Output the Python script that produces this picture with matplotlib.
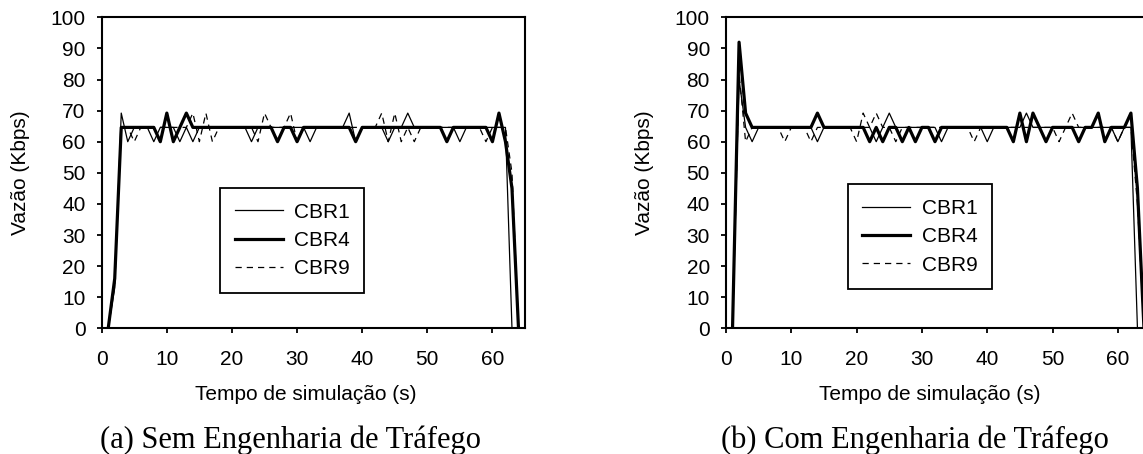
import numpy as np
import matplotlib.pyplot as plt

plt.rcParams['font.family'] = ['Liberation Sans', 'DejaVu Sans']

# tempo (s)
tempo_63 = np.arange(1, 64)
tempo_64 = np.arange(1, 65)

# (a) sem engenharia de trafego
a_cbr1 = [0, 13, 69.2, 60, 64.6, 64.6, 64.6, 60, 64.6, 64.6,
          64.6, 60, 64.6, 60, 64.6, 64.6, 64.6, 64.6, 64.6, 64.6,
          64.6, 64.6, 60, 64.6, 64.6, 64.6, 64.6, 64.6, 64.6, 64.6,
          64.6, 60, 64.6, 64.6, 64.6, 64.6, 64.6, 69.2, 60, 64.6,
          64.6, 64.6, 64.6, 60, 64.6, 64.6, 69.2, 64.6, 64.6, 64.6,
          64.6, 64.6, 64.6, 64.6, 60, 64.6, 64.6, 64.6, 64.6, 64.6,
          64.6, 64.6, 0]
a_cbr4 = [0, 16, 64.6, 64.6, 64.6, 64.6, 64.6, 64.6, 60, 69.2,
          60, 64.6, 69.2, 64.6, 64.6, 64.6, 64.6, 64.6, 64.6, 64.6,
          64.6, 64.6, 64.6, 64.6, 64.6, 64.6, 60, 64.6, 64.6, 60,
          64.6, 64.6, 64.6, 64.6, 64.6, 64.6, 64.6, 64.6, 60, 64.6,
          64.6, 64.6, 64.6, 64.6, 64.6, 64.6, 64.6, 64.6, 64.6, 64.6,
          64.6, 64.6, 60, 64.6, 64.6, 64.6, 64.6, 64.6, 64.6, 60,
          69.2, 60, 45, 0]
a_cbr9 = [0, 14, 64.6, 64.6, 60, 64.6, 64.6, 64.6, 64.6, 64.6,
          64.6, 64.6, 64.6, 69.2, 60, 69.2, 60, 64.6, 64.6, 64.6,
          64.6, 64.6, 64.6, 60, 69.2, 64.6, 64.6, 64.6, 69.2, 60,
          64.6, 64.6, 64.6, 64.6, 64.6, 64.6, 64.6, 64.6, 64.6, 64.6,
          64.6, 64.6, 69.2, 60, 69.2, 60, 64.6, 60, 64.6, 64.6,
          64.6, 64.6, 64.6, 64.6, 64.6, 64.6, 64.6, 64.6, 60, 64.6,
          64.6, 64.6, 50, 0]

# (b) com engenharia de trafego
b_cbr1 = [0, 80, 64.6, 60, 64.6, 64.6, 64.6, 64.6, 64.6, 64.6,
          64.6, 64.6, 64.6, 60, 64.6, 64.6, 64.6, 64.6, 64.6, 64.6,
          64.6, 64.6, 60, 64.6, 69.2, 64.6, 64.6, 64.6, 64.6, 64.6,
          64.6, 64.6, 60, 64.6, 64.6, 64.6, 64.6, 64.6, 64.6, 60,
          64.6, 64.6, 64.6, 64.6, 64.6, 69.2, 64.6, 64.6, 64.6, 64.6,
          64.6, 64.6, 64.6, 64.6, 64.6, 64.6, 64.6, 64.6, 64.6, 60,
          64.6, 64.6, 0]
b_cbr4 = [0, 92, 69.2, 64.6, 64.6, 64.6, 64.6, 64.6, 64.6, 64.6,
          64.6, 64.6, 64.6, 69.2, 64.6, 64.6, 64.6, 64.6, 64.6, 64.6,
          64.6, 60, 64.6, 60, 64.6, 64.6, 60, 64.6, 60, 64.6,
          64.6, 60, 64.6, 64.6, 64.6, 64.6, 64.6, 64.6, 64.6, 64.6,
          64.6, 64.6, 64.6, 60, 69.2, 60, 69.2, 64.6, 60, 64.6,
          64.6, 64.6, 64.6, 60, 64.6, 64.6, 69.2, 60, 64.6, 64.6,
          64.6, 69.2, 45, 0]
b_cbr9 = [0, 82, 60, 64.6, 64.6, 64.6, 64.6, 64.6, 60, 64.6,
          64.6, 64.6, 60, 64.6, 64.6, 64.6, 64.6, 64.6, 64.6, 60,
          69.2, 64.6, 69.2, 64.6, 64.6, 60, 64.6, 64.6, 64.6, 64.6,
          64.6, 64.6, 64.6, 64.6, 64.6, 64.6, 64.6, 60, 64.6, 64.6,
          64.6, 64.6, 64.6, 64.6, 64.6, 64.6, 64.6, 64.6, 64.6, 64.6,
          60, 64.6, 69.2, 64.6, 64.6, 64.6, 64.6, 64.6, 64.6, 60,
          64.6, 64.6, 40, 0]

legendas = ["CBR1", "CBR4", "CBR9"]
eixo_x = [0, 10, 20, 30, 40, 50, 60]
eixo_y = [0, 10, 20, 30, 40, 50, 60, 70, 80, 90, 100]

W, H = 1143, 454
fig = plt.figure(figsize=(W / 100, H / 100), dpi=100)

def px(x0, y0, x1, y1):
    return [x0 / W, 1 - y1 / H, (x1 - x0) / W, (y1 - y0) / H]

ax_a = fig.add_axes(px(101.7, 17.3, 525, 328.3))
ax_b = fig.add_axes(px(726, 17.3, 1150.5, 328.3))

paineis = [
    (ax_a, a_cbr1, a_cbr4, a_cbr9, (220, 293), 101.7, "(a) Sem Engenharia de Tráfego"),
    (ax_b, b_cbr1, b_cbr4, b_cbr9, (847.7, 289.3), 726, "(b) Com Engenharia de Tráfego"),
]

for ax, c1, c4, c9, leg_pos, x0, legenda in paineis:
    ax.plot(tempo_63, c1, color='black', lw=0.9, label=legendas[0])
    ax.plot(tempo_64, c4, color='black', lw=2.3, label=legendas[1])
    ax.plot(tempo_64, c9, color='black', lw=0.9, ls=(0, (5, 4)), label=legendas[2])
    ax.set_xlim(0, 65)
    ax.set_ylim(0, 100)
    ax.set_xticks(eixo_x)
    ax.set_yticks(eixo_y)
    ax.tick_params(direction='out', length=3.6, width=1.3, labelsize=15, color='black')
    ax.tick_params(axis='x', pad=12)
    ax.tick_params(axis='y', pad=8)
    for s in ax.spines.values():
        s.set_linewidth(1.5)
    leg = ax.legend(loc='lower left', bbox_to_anchor=(leg_pos[0] / W, 1 - leg_pos[1] / H),
                    bbox_transform=fig.transFigure, borderaxespad=0, fontsize=15,
                    fancybox=False, edgecolor='black', framealpha=1,
                    handlelength=2.3, handletextpad=0.55, labelspacing=0.45, borderpad=0.7)
    leg.get_frame().set_linewidth(1.3)
    fig.text((x0 - 81) / W, 1 - 172.8 / H, "Vazão (Kbps)", rotation=90,
             ha='center', va='center', fontsize=15)
    fig.text((x0 + 204) / W, 1 - 395 / H, "Tempo de simulação (s)",
             ha='center', va='center', fontsize=15)
    fig.text((x0 + 189) / W, 1 - 440 / H, legenda, ha='center', va='center',
             fontsize=22, family='Liberation Serif')

fig.savefig("out.png", dpi=100)
